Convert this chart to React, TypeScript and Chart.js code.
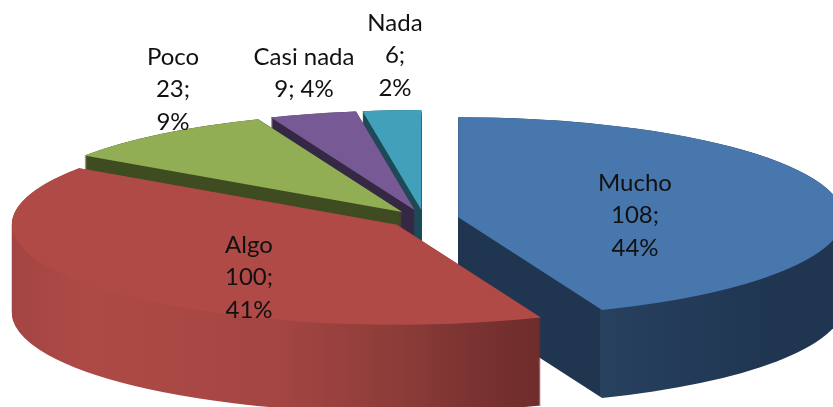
import React, { useEffect, useRef } from "react";
import { Chart, registerables, Plugin } from "chart.js";

Chart.register(...registerables);

const categories = ["Mucho", "Algo", "Poco", "Casi nada", "Nada"];
const counts = [108, 100, 23, 9, 6];
const percents = [44, 41, 9, 4, 2];
const topColors = ["#4877ae", "#b04a46", "#92ae54", "#775a95", "#42a0ba"];
// one line per entry: which of name / count / percent share a line
const labelLineSplit = [true, true, true, false, true];

// view of the tilted pie
const VIEW = { cx: 424, cy: 219, rx: 385, ry: 100, depth: 88, explode: 0.0905 };
const WALL_ORDER = [4, 3, 2, 0, 1];
const WALL_STOPS: [number, string][][] = [
  [[458, "#1f3550"], [599.5, "#1f3550"], [600, "#28415f"], [690, "#233b58"], [780, "#1f3550"], [833, "#1f3550"]],
  [[10, "#a34543"], [90, "#ae4a46"], [280, "#a44542"], [400, "#8c3c39"], [470, "#7b3331"], [540, "#6e2c2b"]],
  [[0, "#3f4c22"], [833, "#3f4c22"]],
  [[0, "#352844"], [833, "#352844"]],
  [[0, "#1e4a57"], [833, "#1e4a57"]],
];
const LABEL_FONT = '24px Lato, "Open Sans", sans-serif';
const LABEL_CENTERS = [
  { x: 635, y: 183 },
  { x: 249, y: 245 },
  { x: 173, y: 57 },
  { x: 304, y: 57 },
  { x: 395, y: 23 },
];
const LINE_HEIGHT = 32.5;

const pie3d: Plugin<"pie"> = {
  id: "pie3d",
  afterDatasetsUpdate(chart) {
    for (const arc of chart.getDatasetMeta(0).data as any[]) {
      const mid = (arc.startAngle + arc.endAngle) / 2;
      const d = VIEW.explode * arc.outerRadius;
      arc.x += Math.cos(mid) * d;
      arc.y += Math.sin(mid) * d;
    }
  },
  beforeDatasetsDraw(chart) {
    const ctx = chart.ctx;
    const arcs = chart.getDatasetMeta(0).data as any[];
    const R = arcs[0].outerRadius;
    const ox = chart.width / 2;
    const oy = chart.height / 2;
    const sx = VIEW.rx / R;
    const sy = VIEW.ry / R;
    for (const i of WALL_ORDER) {
      const a = arcs[i];
      const x = VIEW.cx + (a.x - ox) * sx;
      const y = VIEW.cy + (a.y - oy) * sy;
      const stops = WALL_STOPS[i];
      const x0 = stops[0][0];
      const x1 = stops[stops.length - 1][0];
      const g = ctx.createLinearGradient(x0, 0, x1, 0);
      for (const [px, c] of stops) g.addColorStop((px - x0) / (x1 - x0), c);
      ctx.fillStyle = g;
      for (let dy = VIEW.depth; dy >= 0; dy -= 1) {
        ctx.beginPath();
        ctx.moveTo(x, y + dy);
        ctx.ellipse(x, y + dy, VIEW.rx, VIEW.ry, 0, a.startAngle, a.endAngle);
        ctx.closePath();
        ctx.fill();
      }
    }
    ctx.save();
    ctx.translate(VIEW.cx, VIEW.cy);
    ctx.scale(sx, sy);
    ctx.translate(-ox, -oy);
  },
  afterDatasetsDraw(chart) {
    chart.ctx.restore();
  },
  afterDraw(chart) {
    const ctx = chart.ctx;
    ctx.save();
    ctx.font = LABEL_FONT;
    ctx.fillStyle = "#111111";
    ctx.textAlign = "center";
    ctx.textBaseline = "middle";
    categories.forEach((name, i) => {
      const lines = labelLineSplit[i]
        ? [name, `${counts[i]};`, `${percents[i]}%`]
        : [name, `${counts[i]}; ${percents[i]}%`];
      lines.forEach((t, j) => {
        ctx.fillText(t, LABEL_CENTERS[i].x, LABEL_CENTERS[i].y + j * LINE_HEIGHT);
      });
    });
    ctx.restore();
  },
};

export default function App() {
  const ref = useRef<HTMLCanvasElement>(null);
  useEffect(() => {
    document.body.style.margin = "0";
    const chart = new Chart(ref.current!, {
      type: "pie",
      data: {
        labels: categories,
        datasets: [
          { data: counts, backgroundColor: topColors, borderWidth: 0, clip: false } as any,
        ],
      },
      options: {
        responsive: false,
        animation: false,
        layout: { padding: 0 },
        plugins: { legend: { display: false }, tooltip: { enabled: false } },
      },
      plugins: [pie3d],
    });
    return () => chart.destroy();
  }, []);
  return (
    <canvas
      ref={ref}
      width={833}
      height={407}
      style={{ display: "block", width: 833, height: 407, filter: "blur(0.4px)" }}
    />
  );
}
